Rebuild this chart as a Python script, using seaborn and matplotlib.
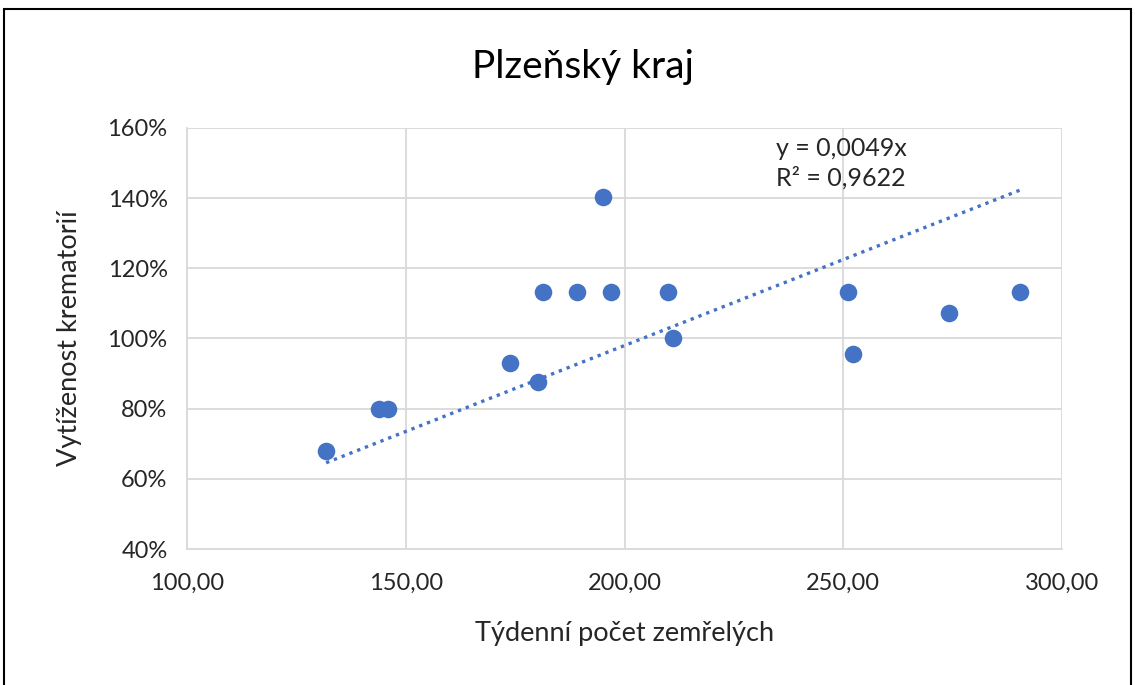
import matplotlib
matplotlib.use("Agg")
import matplotlib.pyplot as plt
import matplotlib.ticker as mticker
from matplotlib.patches import Rectangle
import seaborn as sns
import numpy as np
import pandas as pd

# Data
deaths = [131.8, 143.9, 145.9, 173.8, 180.2, 181.4, 189.1, 195.1, 196.9, 209.9, 211.1, 251.1, 252.2, 274.2, 290.4]
utilization = [0.68, 0.80, 0.80, 0.93, 0.876, 1.133, 1.133, 1.403, 1.133, 1.133, 1.00, 1.133, 0.956, 1.073, 1.133]
slope = 0.0049
title = "Plzeňský kraj"
xlabel = "Týdenní počet zemřelých"
ylabel = "Vytíženost krematorií"
eq_text = "y = 0,0049x\nR² = 0,9622"

df = pd.DataFrame({"x": deaths, "y": utilization})

sns.set_theme(style="whitegrid")
plt.rcParams['font.family'] = ['Lato', 'DejaVu Sans']

fig = plt.figure(figsize=(11.35, 6.85), dpi=100)
ax = fig.add_axes([187/1135, 1-549/685, (1062-187)/1135, (549-128)/685])

color = "#4472C4"
sns.scatterplot(data=df, x="x", y="y", ax=ax, color=color, s=160, edgecolor=color, linewidth=0, zorder=3)

xs = np.array([min(deaths), max(deaths)])
ax.plot(xs, slope * xs, linestyle=(0, (1, 1.5)), color=color, linewidth=2.4, zorder=2)

ax.set_xlim(100, 300)
ax.set_ylim(0.4, 1.6)
ax.set_xticks([100, 150, 200, 250, 300])
ax.set_yticks([0.4, 0.6, 0.8, 1.0, 1.2, 1.4, 1.6])
ax.xaxis.set_major_formatter(mticker.FuncFormatter(lambda v, p: f"{v:.2f}".replace(".", ",")))
ax.yaxis.set_major_formatter(mticker.FuncFormatter(lambda v, p: f"{v*100:.0f}%"))

ax.grid(True, color="#d9d9d9", linewidth=1.3)
for side in ["top", "right"]:
    ax.spines[side].set_visible(False)
for side in ["left", "bottom"]:
    ax.spines[side].set_visible(True)
    ax.spines[side].set_color("#d9d9d9")
    ax.spines[side].set_linewidth(1.3)
ax.tick_params(axis="both", labelsize=17, colors="#262626", length=0)
ax.tick_params(axis="x", pad=17)
ax.tick_params(axis="y", pad=14)

ax.set_xlabel(xlabel, fontsize=19.5, color="#262626", labelpad=20)
ax.set_ylabel(ylabel, fontsize=19.5, color="#262626", labelpad=18)
fig.text(0.5135, 1-67/685, title, fontsize=28, ha="center", va="center", color="#000000")

ax.text(234.6, 1.575, eq_text, fontsize=18, color="#262626", ha="left", va="top", linespacing=1.35)

fig.patches.append(Rectangle((4/1135, -0.01), 1127/1135, 1-9/685 + 0.01, transform=fig.transFigure,
                             fill=False, edgecolor="black", linewidth=1.5))

fig.savefig("out.png", dpi=100, facecolor="white")
